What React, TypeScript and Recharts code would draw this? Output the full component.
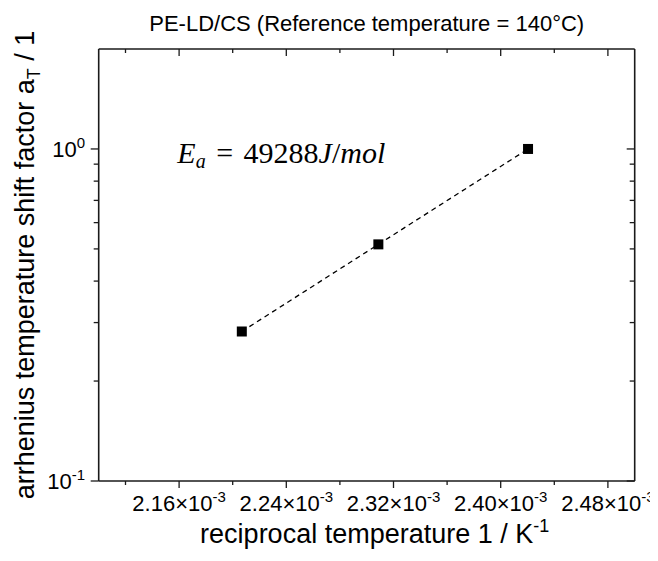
import React from 'react'
import { ScatterChart, Scatter, XAxis, YAxis } from 'recharts'

// reciprocal temperature (1/K) at 180, 160, 140 °C
const invTemp = [0.0022068, 0.0023087, 0.0024204]
// arrhenius shift factor aT
const shiftFactor = [0.282, 0.516, 1.0]

const xTicks = [0.00212, 0.00216, 0.0022, 0.00224, 0.00228, 0.00232, 0.00236, 0.0024, 0.00244, 0.00248]
const xMajor = [0.00216, 0.00224, 0.00232, 0.0024, 0.00248]
const xMajorLabels = ['2.16', '2.24', '2.32', '2.40', '2.48']

const yTicks = [0.1, 0.2, 0.3, 0.4, 0.5, 0.6, 0.7, 0.8, 0.9, 1]
const yMajor = [0.1, 1]
const yMajorExp = ['-1', '0']

const W = 650
const H = 553
// axes take 1px each, so plot area = 90.7..626.7 x 41..473 (container coords)
const M = { top: 40, right: 22.3, bottom: 79, left: 89.7 }
const AXIS = '#1a1a1a'
const SANS = '"Liberation Sans", Arial, sans-serif'

const majorIndex = (list: number[], v: number) =>
  list.findIndex((m) => Math.abs(m - v) < 1e-9)

function BottomTick({ x, y, payload }: any) {
  const i = majorIndex(xMajor, payload.value)
  return (
    <g>
      <line x1={x} x2={x} y1={y} y2={y + (i >= 0 ? 7 : 4)} stroke={AXIS} strokeWidth={1.3} />
      {i >= 0 && (
        <text x={x} y={y + 30.3} textAnchor="middle" fontSize={22} fontFamily={SANS} fill="#000">
          {xMajorLabels[i]}×10
          <tspan dy={-9} fontSize={15}>-3</tspan>
        </text>
      )}
    </g>
  )
}

function TopTick({ x, y, payload }: any) {
  const i = majorIndex(xMajor, payload.value)
  return <line x1={x} x2={x} y1={y} y2={y + (i >= 0 ? 7 : 4)} stroke={AXIS} strokeWidth={1.3} />
}

function LeftTick({ x, y, payload }: any) {
  const i = majorIndex(yMajor, payload.value)
  return (
    <g>
      <line x1={x} x2={x - (i >= 0 ? 8 : 5)} y1={y} y2={y} stroke={AXIS} strokeWidth={1.3} />
      {i >= 0 && (
        <text x={x - 13.5} y={y + 8} textAnchor="end" fontSize={22} fontFamily={SANS} fill="#000">
          10
          <tspan dy={-9} fontSize={15}>{yMajorExp[i]}</tspan>
        </text>
      )}
    </g>
  )
}

function RightTick({ x, y, payload }: any) {
  const i = majorIndex(yMajor, payload.value)
  return <line x1={x} x2={x - (i >= 0 ? 8 : 5)} y1={y} y2={y} stroke={AXIS} strokeWidth={1.3} />
}

const squareShape = (p: any) => (
  <rect x={p.cx - 5} y={p.cy - 5} width={10} height={10} fill="#000" />
)

export default function App() {
  const data = invTemp.map((x, i) => ({ x, y: shiftFactor[i] }))
  const plotLeft = M.left + 1
  const plotTop = M.top + 1
  const plotCx = plotLeft + (W - plotLeft - M.right - 1) / 2
  const plotCy = plotTop + (H - plotTop - M.bottom - 1) / 2

  return (
    <div style={{ position: 'relative', width: W, height: H, background: '#fff' }}>
      <ScatterChart width={W} height={H} margin={M}>
        <XAxis
          xAxisId="bottom"
          dataKey="x"
          type="number"
          domain={[0.0021, 0.0025]}
          allowDataOverflow
          ticks={xTicks}
          tick={<BottomTick />}
          tickSize={0}
          tickMargin={0}
          tickLine={false}
          height={1}
          interval={0}
          axisLine={{ stroke: AXIS, strokeWidth: 1.6 }}
        />
        <XAxis
          xAxisId="top"
          orientation="top"
          dataKey="x"
          type="number"
          domain={[0.0021, 0.0025]}
          allowDataOverflow
          ticks={xTicks}
          tick={<TopTick />}
          tickSize={0}
          tickMargin={0}
          tickLine={false}
          height={1}
          interval={0}
          axisLine={{ stroke: AXIS, strokeWidth: 1.6 }}
        />
        <YAxis
          yAxisId="left"
          dataKey="y"
          type="number"
          scale="log"
          domain={[0.1, 2]}
          allowDataOverflow
          ticks={yTicks}
          tick={<LeftTick />}
          tickSize={0}
          tickMargin={0}
          tickLine={false}
          width={1}
          interval={0}
          axisLine={{ stroke: AXIS, strokeWidth: 1.6 }}
        />
        <YAxis
          yAxisId="right"
          orientation="right"
          dataKey="y"
          type="number"
          scale="log"
          domain={[0.1, 2]}
          allowDataOverflow
          ticks={yTicks}
          tick={<RightTick />}
          tickSize={0}
          tickMargin={0}
          tickLine={false}
          width={1}
          interval={0}
          axisLine={{ stroke: AXIS, strokeWidth: 1.6 }}
        />
        <Scatter
          data={data}
          xAxisId="bottom"
          yAxisId="left"
          fill="#000"
          line={{ stroke: '#000', strokeWidth: 1.3, strokeDasharray: '5 4' }}
          shape={squareShape}
          isAnimationActive={false}
        />
        <Scatter
          data={data}
          xAxisId="top"
          yAxisId="right"
          fill="none"
          shape={() => <g />}
          isAnimationActive={false}
        />
      </ScatterChart>
      <svg
        width={W}
        height={H}
        style={{ position: 'absolute', left: 0, top: 0, pointerEvents: 'none' }}
      >
        <text x={plotCx} y={23} textAnchor="middle" fontSize={22} fontFamily={SANS} fill="#000">
          PE-LD/CS (Reference temperature = 140°C)
        </text>
        <text x={plotCx + 8} y={535} textAnchor="middle" fontSize={27} fontFamily={SANS} fill="#000">
          reciprocal temperature 1 / K<tspan dy={-11} fontSize={18}>-1</tspan>
        </text>
        <text
          transform={`translate(26.4, ${plotCy}) rotate(-90)`}
          textAnchor="middle"
          fontSize={27}
          fontFamily={SANS}
          fill="#000"
        >
          arrhenius temperature shift factor a<tspan dy={6} fontSize={18}>T</tspan>
          <tspan dy={-6}> / 1</tspan>
        </text>
        <text x={169.3} y={155.3} fontSize={30} fontFamily='"Liberation Serif", serif' fill="#000">
          <tspan fontStyle="italic">E</tspan>
          <tspan fontStyle="italic" fontSize={20} dy={5}>a</tspan>
          <tspan dy={-5} dx={10.5}>=</tspan>
          <tspan dx={10.5}>49288</tspan>
          <tspan fontStyle="italic">J</tspan>
          <tspan>/</tspan>
          <tspan fontStyle="italic">mol</tspan>
        </text>
      </svg>
    </div>
  )
}
